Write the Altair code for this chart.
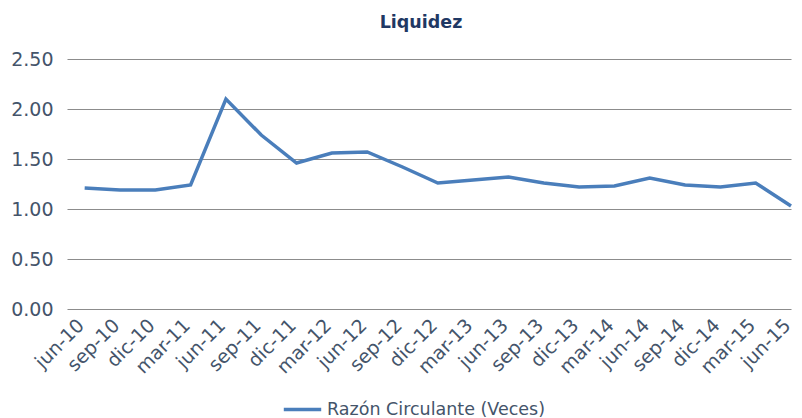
import altair as alt
import pandas as pd

labels = ["jun-10", "sep-10", "dic-10", "mar-11", "jun-11", "sep-11", "dic-11",
          "mar-12", "jun-12", "sep-12", "dic-12", "mar-13", "jun-13", "sep-13",
          "dic-13", "mar-14", "jun-14", "sep-14", "dic-14", "mar-15", "jun-15"]
values = [1.21, 1.19, 1.19, 1.24, 2.10, 1.74, 1.46, 1.56, 1.57, 1.42, 1.26,
          1.29, 1.32, 1.26, 1.22, 1.23, 1.31, 1.24, 1.22, 1.26, 1.03]
series = "Razón Circulante (Veces)"
y_ticks = [0, 0.5, 1.0, 1.5, 2.0, 2.5]

df = pd.DataFrame({"idx": list(range(len(labels))), "periodo": labels,
                   "valor": values, "serie": series})

label_expr = "[" + ",".join("'" + l + "'" for l in labels) + "][datum.value]"

FONT = "DejaVu Sans"
TXT = "#44546A"

chart = alt.Chart(df).mark_line(strokeWidth=3.5).encode(
    x=alt.X("idx:Q", scale=alt.Scale(domain=[-0.5, 20], nice=False, zero=False),
            axis=alt.Axis(values=list(range(len(labels))), labelExpr=label_expr,
                          labelAngle=-45, labelAlign="right", labelBaseline="middle",
                          labelFontSize=19, labelFont=FONT, translate=-3.5,
                          labelColor=TXT, grid=False, domain=False, ticks=False,
                          labelPadding=17, title=None, labelFlush=False,
                          labelOverlap=False)),
    y=alt.Y("valor:Q", scale=alt.Scale(domain=[0, 2.5], nice=False),
            axis=alt.Axis(values=y_ticks, format=".2f", labelFontSize=19,
                          labelFont=FONT, labelColor=TXT, grid=True,
                          gridColor="#8C8C8C", gridWidth=1.2, domain=False,
                          ticks=False, labelPadding=14, title=None)),
    color=alt.Color("serie:N", scale=alt.Scale(range=["#4A7EBB"]),
                    legend=alt.Legend(title=None, orient="none", legendX=215,
                                      legendY=330, symbolType="stroke",
                                      symbolSize=1400, symbolStrokeWidth=3.5,
                                      labelFontSize=17.5, labelFont=FONT,
                                      labelLimit=500,
                                      labelColor=TXT, labelOffset=4)),
).properties(
    width=724, height=250,
    title=alt.TitleParams("Liquidez", fontSize=17.5, font=FONT, fontWeight="bold",
                          color="#1F3864", anchor="middle", offset=19, dx=-8),
    autosize=alt.AutoSizeParams(type="none"),
    padding={"left": 59, "top": 51, "right": 3, "bottom": 109},
).configure_view(stroke=None)

chart.save("out.html", embed_options={"renderer": "svg", "actions": False})
